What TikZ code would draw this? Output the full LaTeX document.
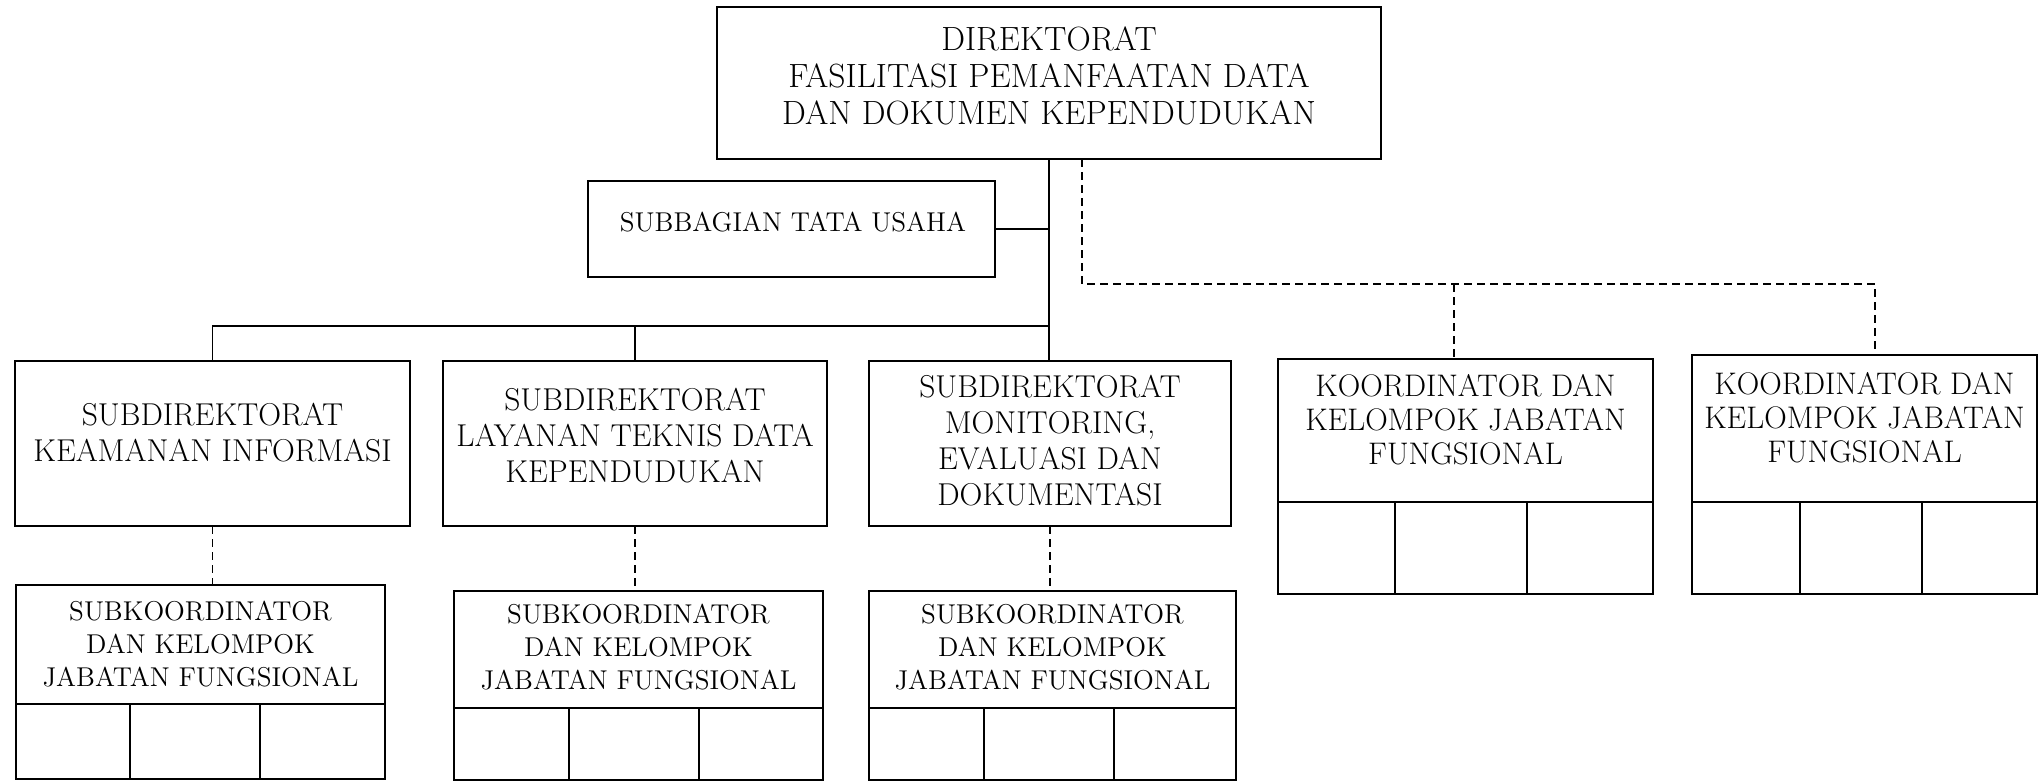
\documentclass[tikz,border=0pt]{standalone}
\begin{document}
\begin{tikzpicture}[x=0.5pt,y=-0.5pt,
  bx/.style={draw,line width=0.85pt,inner sep=0pt,outer sep=0pt},
  huge/.style={align=center,font=\fontsize{16.8}{18.5}\selectfont,inner sep=0pt},
  big/.style={align=center,font=\fontsize{15.8}{18}\selectfont,inner sep=0pt},
  kor/.style={align=center,font=\fontsize{15.6}{17}\selectfont,inner sep=0pt},
  small/.style={align=center,font=\fontsize{13.6}{16.5}\selectfont,inner sep=0pt},
  conn/.style={line width=0.75pt},
  dconn/.style={line width=0.75pt,dash pattern=on 4pt off 2.5pt}]
\useasboundingbox (0,0) rectangle (2040,781);
% top
\node[bx,minimum width=332pt,minimum height=76pt] (dir) at (1049,83) {};
\node[huge] (dirtxt) at (1049,76) {DIREKTORAT\\FASILITASI PEMANFAATAN DATA\\DAN DOKUMEN KEPENDUDUKAN};
% subbagian
\node[bx,minimum width=203.5pt,minimum height=48pt] (subb) at (791.5,229) {};
\node[small] (subbtxt) at (793,222) {SUBBAGIAN TATA USAHA};
% subdirektorat
\node[bx,minimum width=197.5pt,minimum height=82.5pt] (b1) at (212.5,443.5) {};
\node[big] (b1txt) at (212.5,433) {SUBDIREKTORAT\\KEAMANAN INFORMASI};
\node[bx,minimum width=192pt,minimum height=82.5pt] (b2) at (635,443.5) {};
\node[big] (b2txt) at (635,436) {SUBDIREKTORAT\\LAYANAN TEKNIS DATA\\KEPENDUDUKAN};
\node[bx,minimum width=181pt,minimum height=82.5pt] (b3) at (1050,443.5) {};
\node[big] (b3txt) at (1050,441) {SUBDIREKTORAT\\MONITORING,\\EVALUASI DAN\\DOKUMENTASI};
% subkoordinator 1
\node[bx,minimum width=184.5pt,minimum height=59.5pt] (sk1) at (200.5,644.5) {};
\node[small] (sk1txt) at (200.5,644) {SUBKOORDINATOR\\DAN KELOMPOK\\JABATAN FUNGSIONAL};
\node[bx,minimum width=57pt,minimum height=37.5pt] (sk1a) at (73,741.5) {};
\node[bx,minimum width=65pt,minimum height=37.5pt] (sk1b) at (195,741.5) {};
\node[bx,minimum width=62.5pt,minimum height=37.5pt] (sk1c) at (322.5,741.5) {};
% subkoordinator 2
\node[bx,minimum width=184.5pt,minimum height=58.5pt] (sk2) at (638.5,649.5) {};
\node[small] (sk2txt) at (638.5,647) {SUBKOORDINATOR\\DAN KELOMPOK\\JABATAN FUNGSIONAL};
\node[bx,minimum width=57.5pt,minimum height=36pt] (sk2a) at (511.5,744) {};
\node[bx,minimum width=65pt,minimum height=36pt] (sk2b) at (634,744) {};
\node[bx,minimum width=62pt,minimum height=36pt] (sk2c) at (761,744) {};
% subkoordinator 3
\node[bx,minimum width=183.5pt,minimum height=58.5pt] (sk3) at (1052.5,649.5) {};
\node[small] (sk3txt) at (1052.5,647) {SUBKOORDINATOR\\DAN KELOMPOK\\JABATAN FUNGSIONAL};
\node[bx,minimum width=57.5pt,minimum height=36pt] (sk3a) at (926.5,744) {};
\node[bx,minimum width=65pt,minimum height=36pt] (sk3b) at (1049,744) {};
\node[bx,minimum width=61pt,minimum height=36pt] (sk3c) at (1175,744) {};
% koordinator 1
\node[bx,minimum width=187.5pt,minimum height=71.5pt] (k1) at (1465.5,430.5) {};
\node[kor] (k1txt) at (1465.5,420) {KOORDINATOR DAN\\KELOMPOK JABATAN\\FUNGSIONAL};
\node[bx,minimum width=58.5pt,minimum height=46pt] (k1a) at (1336.5,548) {};
\node[bx,minimum width=66pt,minimum height=46pt] (k1b) at (1461,548) {};
\node[bx,minimum width=63pt,minimum height=46pt] (k1c) at (1590,548) {};
% koordinator 2
\node[bx,minimum width=172.5pt,minimum height=73.5pt] (k2) at (1864.5,428.5) {};
\node[kor] (k2txt) at (1864.5,418) {KOORDINATOR DAN\\KELOMPOK JABATAN\\FUNGSIONAL};
\node[bx,minimum width=54pt,minimum height=46pt] (k2a) at (1746,548) {};
\node[bx,minimum width=61pt,minimum height=46pt] (k2b) at (1861,548) {};
\node[bx,minimum width=57.5pt,minimum height=46pt] (k2c) at (1979.5,548) {};
% solid connectors
\draw[conn] (dir.south) -- (dir.south |- b3.north);
\draw[conn] (subb.east) -- (subb.east -| dir.south);
\draw[conn] (b1.north) -- (b1.north |- 0,326) -- (dir.south |- 0,326);
\draw[conn] (b2.north) -- (b2.north |- 0,326);
% dashed connectors
\draw[dconn] (b1.south) -- (b1.south |- sk1.north);
\draw[dconn] (b2.south) -- (b2.south |- sk2.north);
\draw[dconn] (b3.south) -- (b3.south |- sk3.north);
\draw[dconn] ([xshift=16.5pt]dir.south) |- ([xshift=5.25pt]k2.north |- 0,284) -- ([xshift=5.25pt]k2.north);
\draw[dconn] ([xshift=-5.75pt]k1.north |- 0,284) -- ([xshift=-5.75pt]k1.north);
\end{tikzpicture}
\end{document}
